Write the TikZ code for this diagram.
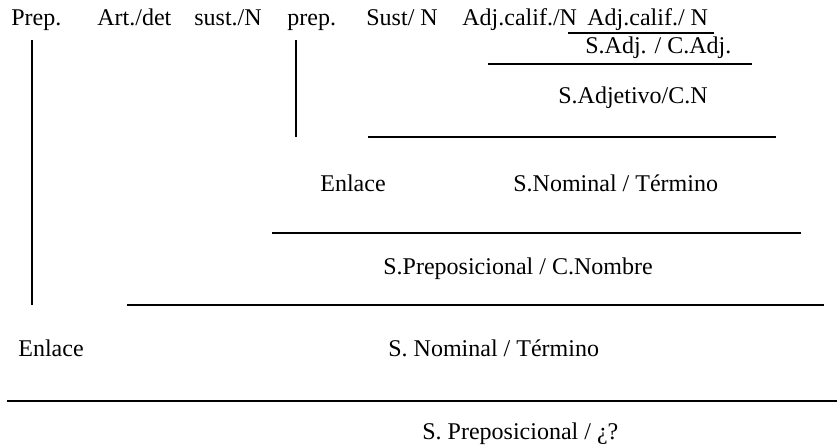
\documentclass[tikz,border=0pt]{standalone}
\usepackage{fontspec}
\setmainfont{Liberation Serif}
\begin{document}
\begin{tikzpicture}[x=0.5pt,y=-0.5pt,
  lbl/.style={anchor=base west,inner sep=0pt,font=\fontsize{12}{14}\selectfont},
  rule/.style={line width=1pt},
  vrule/.style={line width=0.8pt}]
\useasboundingbox (0,0) rectangle (837,448);
% top row
\node[lbl] (w1) at (11,26) {Prep.};
\node[lbl] (w2) at (97,26) {Art./det};
\node[lbl] (w3) at (194,26) {sust./N};
\node[lbl] (w4) at (287,26) {prep.};
\node[lbl] (w5) at (366,26) {Sust/ N};
\node[lbl] (w6) at (462,26) {Adj.calif./N};
\node[lbl] (w7) at (587,26) {Adj.calif./ N};
% levels
\node[lbl] (sadj) at (585,54) {S.Adj. / C.Adj.};
\node[lbl] (sadjet) at (558,104) {S.Adjetivo/C.N};
\node[lbl] (enl1) at (320,192) {Enlace};
\node[lbl] (snom1) at (513,192) {S.Nominal / Término};
\node[lbl] (sprep1) at (383,275) {S.Preposicional / C.Nombre};
\node[lbl] (enl2) at (18,357) {Enlace};
\node[lbl] (snom2) at (388,357) {S. Nominal / Término};
\node[lbl] (sprep2) at (422,440) {S. Preposicional / ¿?};
% horizontal rules
\draw[rule] (568,33) -- (714,33);
\draw[rule] (488,64) -- (752,64);
\draw[rule] (368,137) -- (776,137);
\draw[rule] (272,233) -- (801,233);
\draw[rule] (127,305) -- (824,305);
\draw[rule] (7,401) -- (837,401);
% vertical rules
\draw[vrule] (32,40) -- (32,305);
\draw[vrule] (296,40) -- (296,137);
\end{tikzpicture}
\end{document}
